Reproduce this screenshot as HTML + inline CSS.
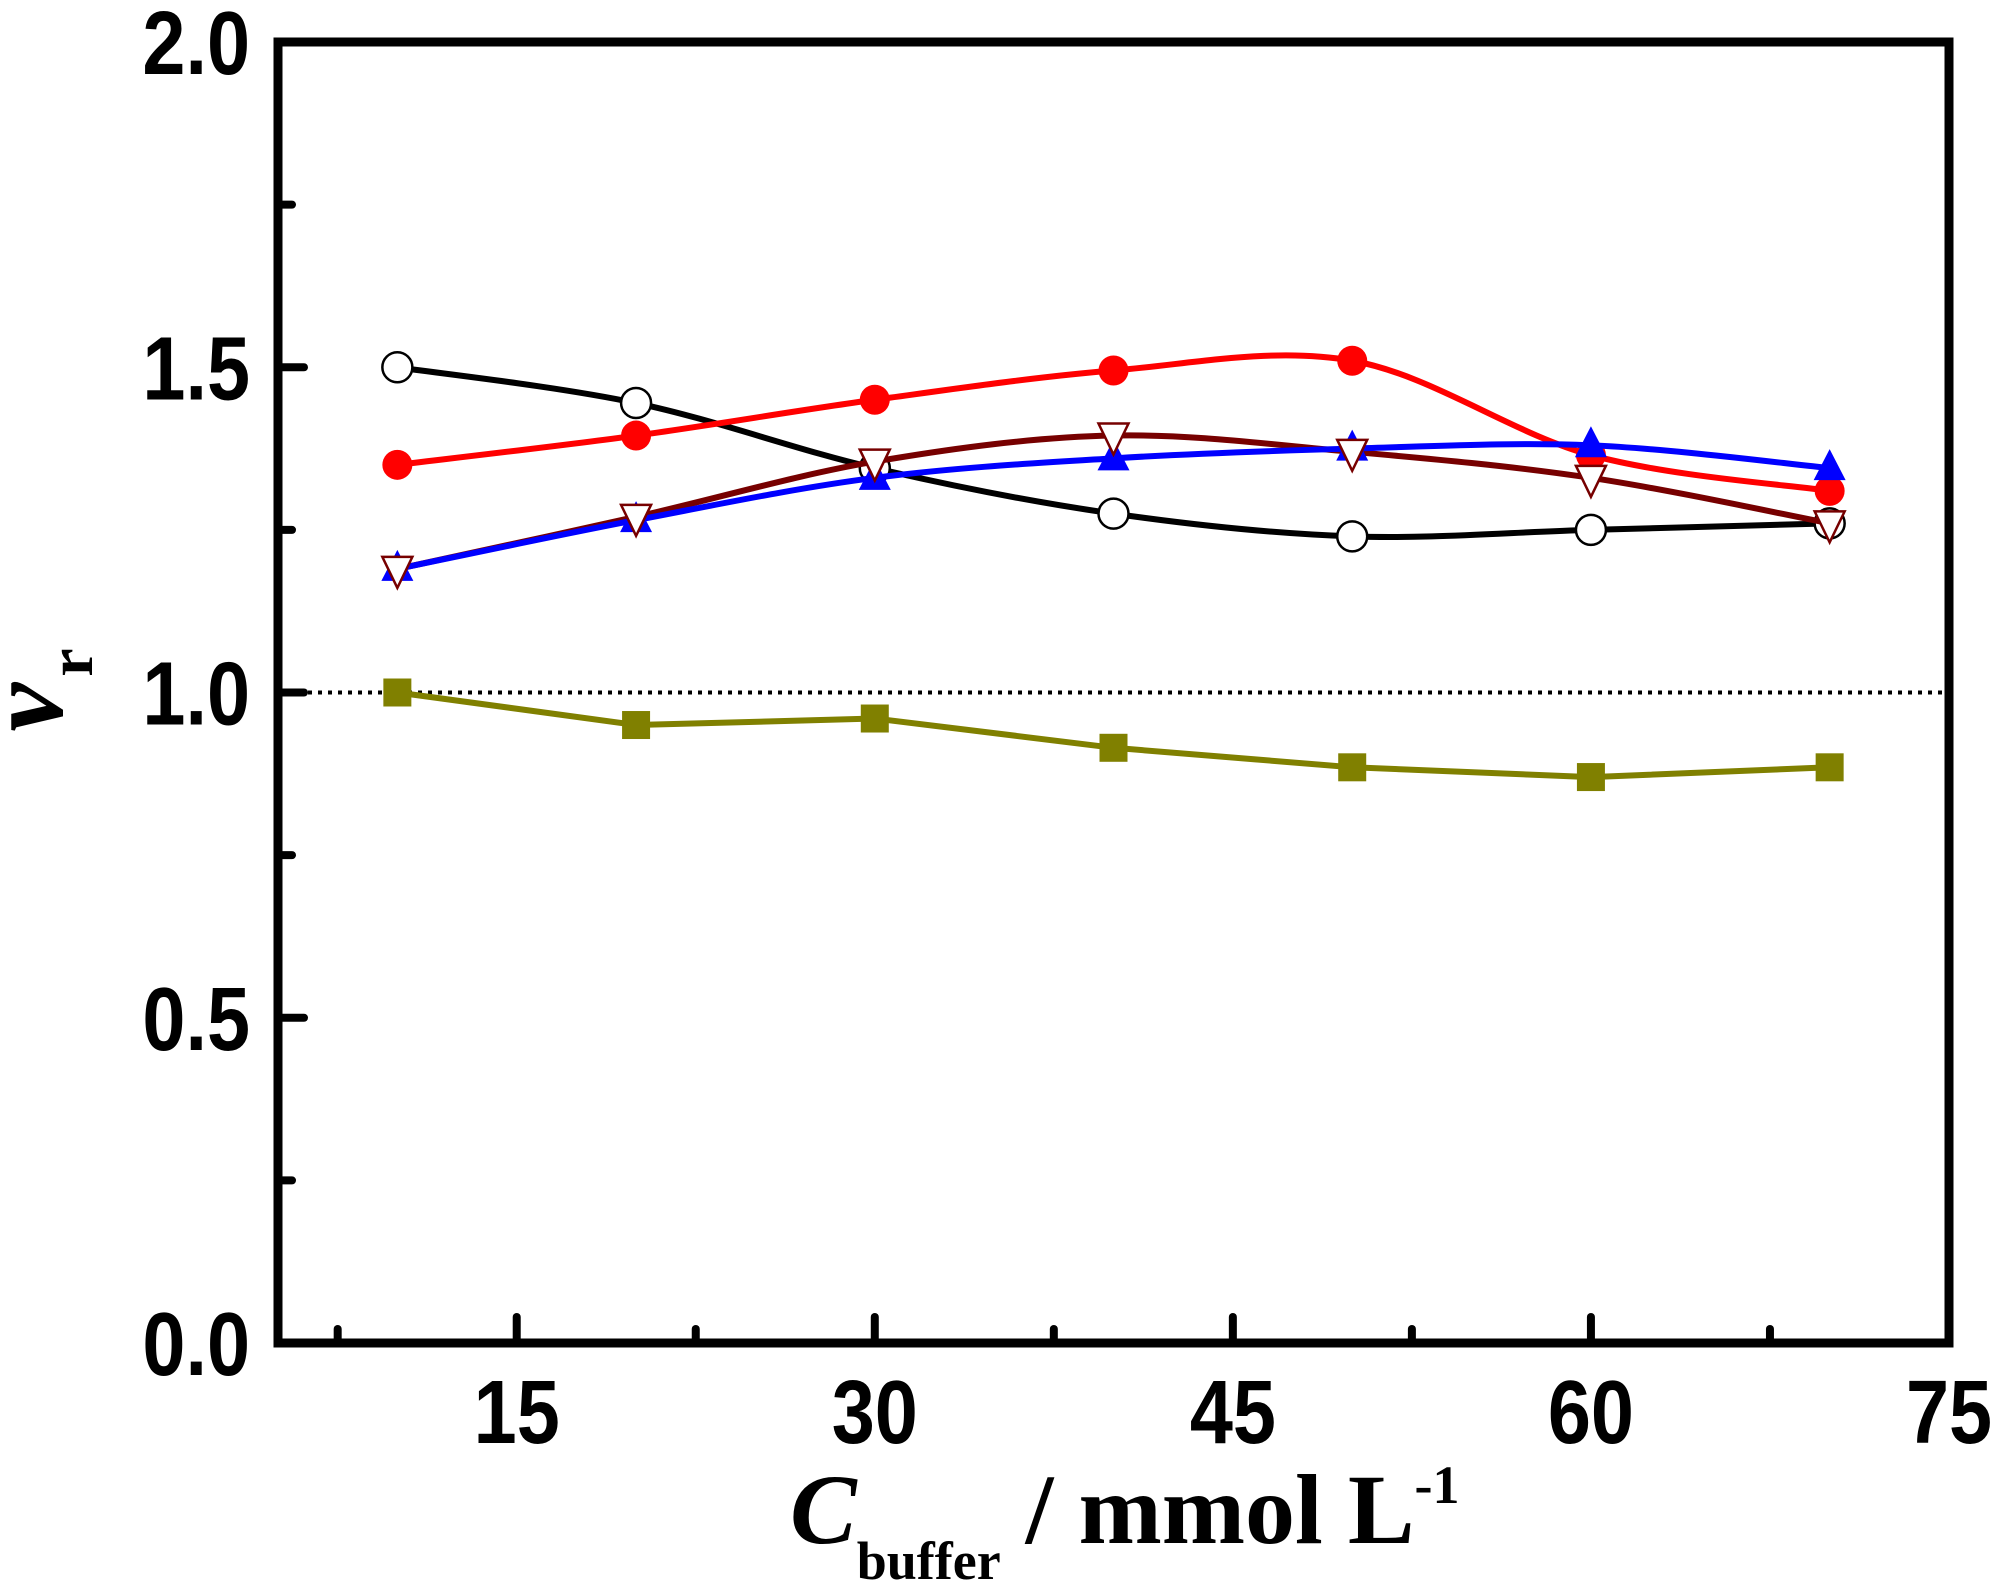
<!DOCTYPE html>
<html><head><meta charset="utf-8"><style>
html,body{margin:0;padding:0;background:#fff}
svg{display:block}
.tk{font-family:"Liberation Sans",Arial,sans-serif;font-weight:bold;font-size:90px;fill:#000}
.ttl{font-family:"Liberation Serif","Times New Roman",serif;font-weight:bold;fill:#000}
</style></head><body>
<svg id="chart" width="2000" height="1585" viewBox="0 0 2000 1585" xmlns="http://www.w3.org/2000/svg">
<g id="plot"></g>
<text class="ttl" x="790" y="1543" font-size="100"><tspan font-style="italic">C</tspan><tspan font-size="54" dy="36">buffer</tspan><tspan dy="-36"> / mmol L</tspan><tspan font-size="54" dy="-40">-1</tspan></text>
<text class="ttl" transform="translate(62,690) rotate(-90)" font-size="110" text-anchor="middle"><tspan font-style="italic">ν</tspan><tspan font-size="64" dy="30" dx="6">r</tspan></text>
</svg>
<script>
const xValues=[10,20,30,40,50,60,70];
const blackCircle=[1.5,1.445,1.345,1.275,1.24,1.25,1.26];
const redCircle=[1.35,1.395,1.45,1.495,1.51,1.365,1.31];
const blueUp=[1.19,1.265,1.33,1.36,1.375,1.38,1.345];
const brownDown=[1.19,1.27,1.355,1.395,1.37,1.33,1.26];
const oliveSquare=[1.0,0.95,0.96,0.915,0.885,0.87,0.885];
const xTicks=[15,30,45,60,75];
const yTicks=[0.0,0.5,1.0,1.5,2.0];
const L=278,R=1949,T=42,B=1343;
function sx(v){return L+(v-5)/(75-5)*(R-L);}
function sy(v){return B-(v-0)/(2-0)*(B-T);}
const NS="http://www.w3.org/2000/svg";
const g=document.getElementById('plot');
function mk(t,a,p){const e=document.createElementNS(NS,t);for(const k in a)e.setAttribute(k,a[k]);(p||g).appendChild(e);return e;}
let ref=mk('line',{x1:L,x2:R,y1:sy(1),y2:sy(1),stroke:'#000','stroke-width':4,'stroke-dasharray':'4 6'});


function smooth(vals){
  const p=xValues.map((x,i)=>[sx(x),sy(vals[i])]);
  let d='M'+p[0][0]+','+p[0][1];
  for(let i=0;i<p.length-1;i++){
    const p0=p[Math.max(i-1,0)],p1=p[i],p2=p[i+1],p3=p[Math.min(i+2,p.length-1)];
    const c1=[p1[0]+(p2[0]-p0[0])/6,p1[1]+(p2[1]-p0[1])/6];
    const c2=[p2[0]-(p3[0]-p1[0])/6,p2[1]-(p3[1]-p1[1])/6];
    d+=` C${c1[0]},${c1[1]} ${c2[0]},${c2[1]} ${p2[0]},${p2[1]}`;
  }
  return d;
}
function series(name,vals,color,curve,marker){
  const grp=mk('g',{});
  
  
  let d=curve?smooth(vals):'M'+xValues.map((x,i)=>sx(x)+','+sy(vals[i])).join(' L');
  const ln=mk('path',{d:d,fill:'none',stroke:color,'stroke-width':6},grp);
  
  
  xValues.forEach((x,i)=>{
    const cx=sx(x),cy=sy(vals[i]);let m;
    if(marker==='ocircle')m=mk('circle',{cx:cx,cy:cy,r:15,fill:'#fff',stroke:'#000','stroke-width':2.5},grp);
    else if(marker==='circle')m=mk('circle',{cx:cx,cy:cy,r:15,fill:'#f00'},grp);
    else if(marker==='up')m=mk('polygon',{points:`${cx},${cy-19} ${cx-16},${cy+12} ${cx+16},${cy+12}`,fill:'#00f'},grp);
    else if(marker==='down')m=mk('polygon',{points:`${cx},${cy+19} ${cx-15},${cy-12} ${cx+15},${cy-12}`,fill:'#fff',stroke:'#700','stroke-width':2.5},grp);
    else if(marker==='square')m=mk('rect',{x:cx-14,y:cy-14,width:28,height:28,fill:'#808000'},grp);
    else return;
    
    
  });
}
series('olive-square',oliveSquare,'#808000',false,'square');
series('black-circle',blackCircle,'#000',true,'ocircle');
series('red-circle',redCircle,'#f00',true,'circle');
series('brown-triangle',brownDown,'#700',true,'none');
series('blue-triangle',blueUp,'#00f',true,'up');
series('brown-triangle-markers',brownDown,'none',true,'down');
const fr=mk('rect',{x:L,y:T,width:R-L,height:B-T,fill:'none',stroke:'#000','stroke-width':9});


for(let v=7.5;v<75;v+=7.5){const major=Math.abs(v/15-Math.round(v/15))<1e-6;
  const t=mk('line',{x1:sx(v),x2:sx(v),y1:B,y2:B-(major?26:14),stroke:'#000','stroke-width':8,'stroke-linecap':'round'});
  
  }
xTicks.forEach(v=>{const t=mk('text',{transform:`translate(${sx(v)},1443) scale(0.86,1)`,'text-anchor':'middle',class:'tk'});t.textContent=v;
  
  });
for(let v=0.25;v<2;v+=0.25){const major=Math.abs(v*2-Math.round(v*2))<1e-6;
  const t=mk('line',{x1:L,x2:L+(major?26:14),y1:sy(v),y2:sy(v),stroke:'#000','stroke-width':8,'stroke-linecap':'round'});
  
  }
yTicks.forEach(v=>{const t=mk('text',{transform:`translate(250,${sy(v)+32}) scale(0.86,1)`,'text-anchor':'end',class:'tk'});t.textContent=v.toFixed(1);
  
  });
</script>
</body></html>
